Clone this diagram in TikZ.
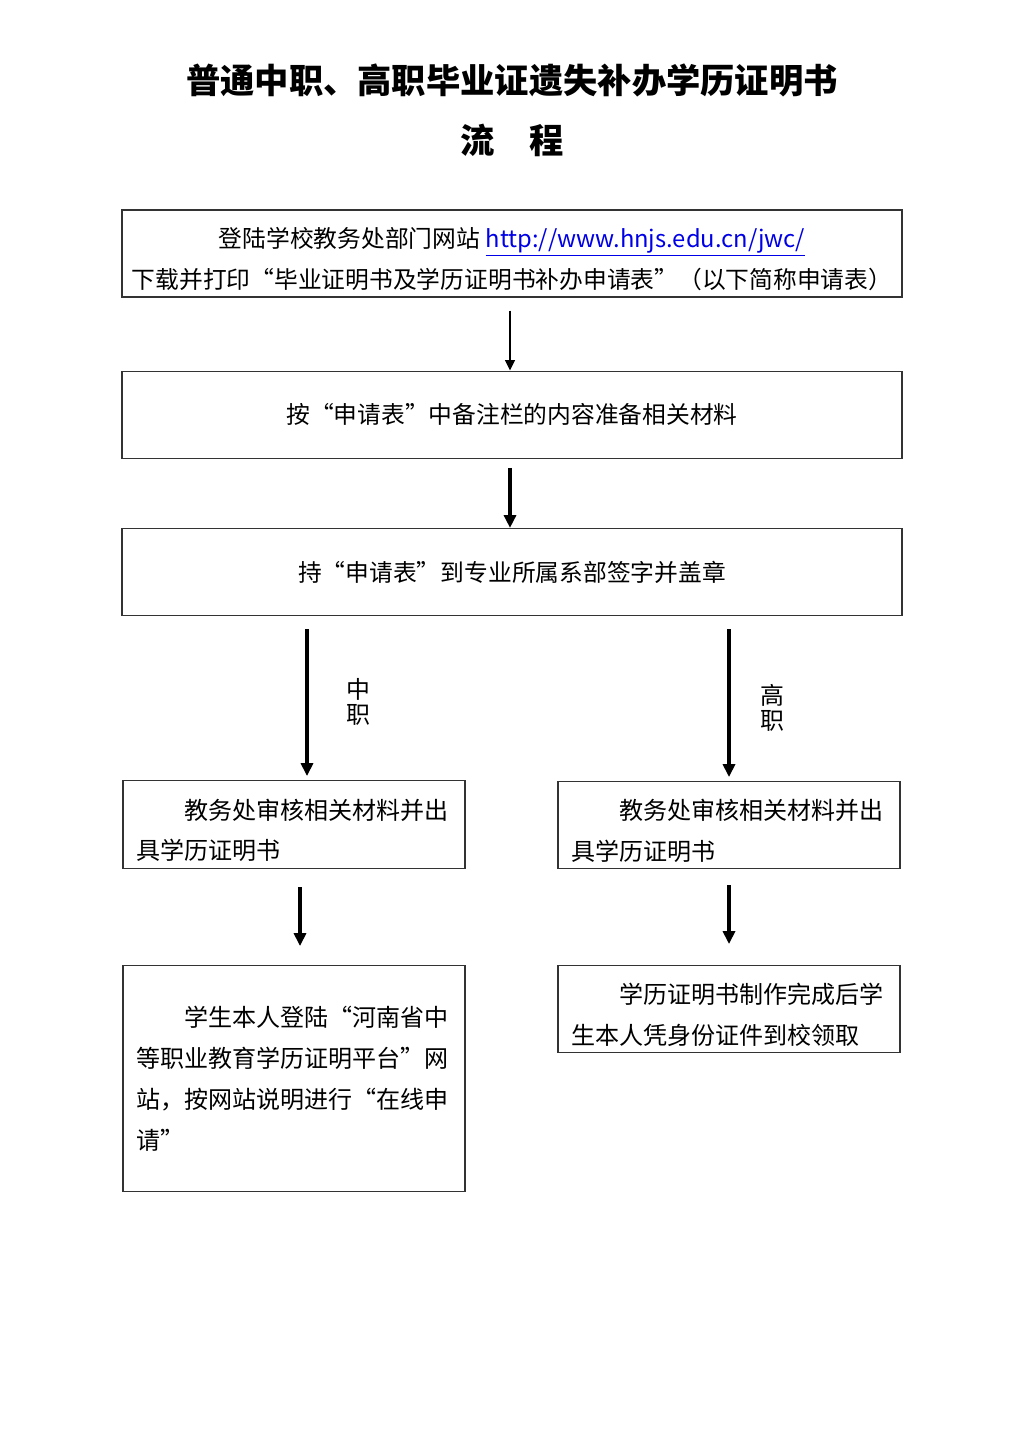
\documentclass[tikz,border=0pt]{standalone}
\usepackage{fontspec}
\setmainfont{Noto Sans CJK SC}
\usepackage{xcolor}
\usepackage{tikz}
\usetikzlibrary{arrows.meta, positioning}

\definecolor{linkblue}{RGB}{0,0,230}
\newcommand{\topgap}{\rule{0pt}{0.8cm}}

\begin{document}
\begin{tikzpicture}[
  node distance=1.8cm and 2cm,
  wide/.style   = {rectangle, draw=black!80, line width=0.9pt, minimum width=19.5cm,
                   minimum height=2.175cm, align=center, inner sep=0pt,
                   font=\fontsize{16.9}{29}\selectfont},
  half/.style   = {rectangle, draw=black!80, line width=0.9pt, minimum width=8.55cm,
                   text width=7.9cm, align=left, inner xsep=0.325cm, inner ysep=0pt,
                   font=\fontsize{17.1}{29}\selectfont},
  branch/.style = {align=center, font=\fontsize{17}{17.8}\selectfont},
  arrow/.style  = {-{Triangle[length=0.32cm, width=0.3cm]}, line width=2.2pt},
  thinarrow/.style = {-{Triangle[length=0.26cm, width=0.24cm]}, line width=1.5pt}
]
\useasboundingbox (0,0) rectangle (25.6,-36.2);

% title
\node[font=\fontsize{24.4}{30}\selectfont\bfseries] (title) at (12.8,-2.0)
  {普通中职、高职毕业证遗失补办学历证明书};
\node[font=\fontsize{24.4}{30}\selectfont\bfseries] (subtitle) at (12.8,-3.5)
  {流\hspace{1em}程};

% main column
\node[wide, minimum height=2.175cm] (web) at (12.8,-6.3375)
  {\topgap 登陆学校教务处部门网站 \textcolor{linkblue}{\underline{http://www.hnjs.edu.cn/jwc/}}\\
   下载并打印“毕业证明书及学历证明书补办申请表”（以下简称申请表）};

\node[wide, below=1.825cm of web] (prep)
  {按“申请表”中备注栏的内容准备相关材料};

\node[wide, below=1.725cm of prep] (sign)
  {持“申请表”到专业所属系部签字并盖章};

% branches
\node[half, minimum height=2.2cm, anchor=north] (zcheck) at (7.35,-19.5)
  {\topgap\hspace*{2em}教务处审核相关材料并出\\具学历证明书};

\node[half, minimum height=2.175cm, anchor=north] (gcheck) at (18.225,-19.525)
  {\topgap\hspace*{2em}教务处审核相关材料并出\\具学历证明书};

\node[half, minimum height=5.65cm, anchor=north] (zonline) at (7.35,-24.125)
  {\hspace*{2em}学生本人登陆“河南省中\\等职业教育学历证明平台”网\\站，按网站说明进行“在线申\\请”};

\node[half, minimum height=2.175cm, anchor=north] (gcollect) at (18.225,-24.125)
  {\topgap\hspace*{2em}学历证明书制作完成后学\\生本人凭身份证件到校领取};

\node[branch] (zlabel) at (8.95,-17.55) {中\\职};
\node[branch] (glabel) at (19.3,-17.7) {高\\职};

% connectors
\draw[thinarrow, shorten <=0.325cm] ([xshift=-0.05cm]web.south) -- ([xshift=-0.05cm]prep.north);
\draw[arrow, shorten <=0.225cm] ([xshift=-0.05cm]prep.south) -- ([xshift=-0.05cm]sign.north);
\draw[arrow, shorten <=0.325cm, shorten >=0.1cm]
  ([xshift=0.325cm]zcheck.north |- sign.south) -- ([xshift=0.325cm]zcheck.north);
\draw[arrow, shorten <=0.325cm, shorten >=0.1cm]
  (gcheck.north |- sign.south) -- (gcheck.north);
\draw[arrow, shorten <=0.45cm, shorten >=0.475cm]
  ([xshift=0.15cm]zcheck.south) -- ([xshift=0.15cm]zonline.north);
\draw[arrow, shorten <=0.4cm, shorten >=0.525cm] (gcheck.south) -- (gcollect.north);

\end{tikzpicture}
\end{document}
